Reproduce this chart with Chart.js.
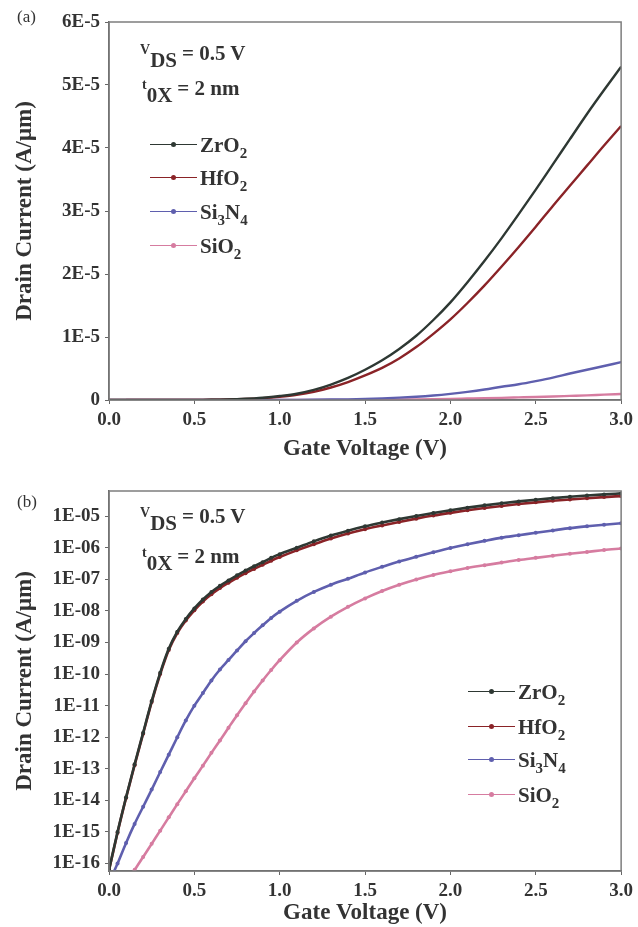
<!DOCTYPE html>
<html>
<head>
<meta charset="utf-8">
<script src="https://cdn.jsdelivr.net/npm/chart.js@4.4.0/dist/chart.umd.min.js"></script>
<style>
  body { margin: 0; background: #fff; }
  #wrap { position: relative; width: 638px; height: 927px; font-family: 'Liberation Serif', 'Times New Roman', serif; font-weight: bold; color: #333; }
  canvas { position: absolute; left: 0; }
  .note { position: absolute; font-size: 21px; line-height: 22px; white-space: nowrap; }
  .note .sm { font-size: 14px; vertical-align: 6px; }
  .note .lo { font-size: 21px; vertical-align: -7px; margin-right: 5px; }
  .tag { position: absolute; font-size: 17px; font-weight: normal; line-height: 20px; }
  .leg { position: absolute; height: 22px; line-height: 22px; font-size: 21px; white-space: nowrap; }
  .leg .mark { display: inline-block; position: relative; width: 47px; height: 22px; vertical-align: top; margin-right: 3px; }
  .leg .mark::before { content: ''; position: absolute; left: 0; right: 0; top: 10px; border-top: 1.5px solid var(--c); }
  .leg .mark::after { content: ''; position: absolute; left: 21px; top: 8px; width: 5px; height: 5px; border-radius: 50%; background: var(--c); }
  .leg sub { font-size: 15px; vertical-align: -6px; line-height: 0; }
</style>
</head>
<body>
<div id="wrap">
  <canvas id="chartA" width="638" height="463" style="top:0"></canvas>
  <canvas id="chartB" width="638" height="464" style="top:463px"></canvas>

  <div class="tag" style="left:17px; top:7px">(a)</div>
  <div class="note" style="left:140px; top:39px"><span class="sm">V</span><span class="lo">DS</span>= 0.5 V</div>
  <div class="note" style="left:142px; top:74px"><span class="sm">t</span><span class="lo">0X</span>= 2 nm</div>

  <div class="tag" style="left:17px; top:492px">(b)</div>
  <div class="note" style="left:140px; top:502px"><span class="sm">V</span><span class="lo">DS</span>= 0.5 V</div>
  <div class="note" style="left:142px; top:542px"><span class="sm">t</span><span class="lo">0X</span>= 2 nm</div>
</div>

<script>
// gate voltage sweep (V)
const gateVoltage = [0.00, 0.05, 0.10, 0.15, 0.20, 0.25, 0.30, 0.35, 0.40, 0.45, 0.50,
    0.55, 0.60, 0.65, 0.70, 0.75, 0.80, 0.85, 0.90, 0.95, 1.00,
    1.1, 1.2, 1.3, 1.4, 1.5, 1.6, 1.7, 1.8, 1.9, 2.0,
    2.1, 2.2, 2.3, 2.4, 2.5, 2.6, 2.7, 2.8, 2.9, 3.0];

// drain current (A/um)
const zro2Current = [6.3e-17, 1.0e-15, 1.26e-14, 1.4e-13, 1.4e-12, 1.4e-11, 1.1e-10, 6.3e-10, 2.2e-9, 5.6e-9, 1.2e-8,
    2.3e-8, 4.0e-8, 6.3e-8, 9.3e-8, 1.35e-7, 1.9e-7, 2.6e-7, 3.5e-7, 4.8e-7, 6.3e-7,
    1.0e-6, 1.6e-6, 2.45e-6, 3.5e-6, 4.8e-6, 6.3e-6, 8.1e-6, 1.02e-5, 1.27e-5, 1.55e-5,
    1.87e-5, 2.21e-5, 2.57e-5, 2.95e-5, 3.34e-5, 3.74e-5, 4.14e-5, 4.54e-5, 4.92e-5, 5.29e-5];

const hfo2Current = [6.0e-17, 9.5e-16, 1.2e-14, 1.3e-13, 1.3e-12, 1.3e-11, 1.0e-10, 5.8e-10, 2.0e-9, 5.0e-9, 1.05e-8,
    2.0e-8, 3.4e-8, 5.3e-8, 7.8e-8, 1.12e-7, 1.57e-7, 2.15e-7, 2.9e-7, 3.9e-7, 5.1e-7,
    8.3e-7, 1.3e-6, 1.98e-6, 2.85e-6, 3.9e-6, 5.1e-6, 6.6e-6, 8.4e-6, 1.05e-5, 1.28e-5,
    1.54e-5, 1.82e-5, 2.12e-5, 2.43e-5, 2.75e-5, 3.08e-5, 3.40e-5, 3.72e-5, 4.04e-5, 4.35e-5];

const si3n4Current = [2.5e-17, 1.0e-16, 4.5e-16, 1.8e-15, 6.3e-15, 2.2e-14, 7.9e-14, 2.8e-13, 1.0e-12, 3.4e-12, 1.0e-11,
    2.5e-11, 6.3e-11, 1.4e-10, 2.8e-10, 5.6e-10, 1.1e-9, 2.0e-9, 3.5e-9, 6.0e-9, 9.5e-9,
    2.1e-8, 4.0e-8, 6.8e-8, 1.05e-7, 1.66e-7, 2.5e-7, 3.7e-7, 5.2e-7, 7.2e-7, 9.8e-7,
    1.29e-6, 1.66e-6, 2.1e-6, 2.5e-6, 3.0e-6, 3.55e-6, 4.2e-6, 4.8e-6, 5.4e-6, 6.0e-6];

const sio2Current = [null, null, 2.5e-17, 6.3e-17, 1.6e-16, 4.2e-16, 1.1e-15, 2.9e-15, 7.6e-15, 1.95e-14, 5.0e-14,
    1.26e-13, 3.2e-13, 7.9e-13, 2.0e-12, 5.0e-12, 1.2e-11, 2.8e-11, 6.3e-11, 1.35e-10, 2.75e-10,
    1.0e-9, 2.8e-9, 6.6e-9, 1.35e-8, 2.5e-8, 4.3e-8, 6.8e-8, 1.0e-7, 1.38e-7, 1.8e-7,
    2.3e-7, 2.8e-7, 3.4e-7, 4.1e-7, 4.8e-7, 5.6e-7, 6.5e-7, 7.4e-7, 8.5e-7, 9.5e-7];

const seriesNames = ['ZrO2', 'HfO2', 'Si3N4', 'SiO2'];
const seriesColors = ['#2e3833', '#8a2327', '#5f5fae', '#d67ca0'];

const xTicks = [0, 0.5, 1.0, 1.5, 2.0, 2.5, 3.0];
const xTickLabels = ['0.0', '0.5', '1.0', '1.5', '2.0', '2.5', '3.0'];
const linTicks = [0, 1e-5, 2e-5, 3e-5, 4e-5, 5e-5, 6e-5];
const linTickLabels = ['0', '1E-5', '2E-5', '3E-5', '4E-5', '5E-5', '6E-5'];
const logTicks = [1e-16, 1e-15, 1e-14, 1e-13, 1e-12, 1e-11, 1e-10, 1e-9, 1e-8, 1e-7, 1e-6, 1e-5];
const logTickLabels = ['1E-16', '1E-15', '1E-14', '1E-13', '1E-12', '1E-11', '1E-10', '1E-09', '1E-08', '1E-07', '1E-06', '1E-05'];

const seriesCurrents = [zro2Current, hfo2Current, si3n4Current, sio2Current];

const serif = "'Liberation Serif', 'Times New Roman', serif";
const tickFont = { family: serif, size: 19, weight: 'bold' };
const titleFont = { family: serif, size: 23, weight: 'bold' };

// box around the plot area (top/right edges)
const framePlugin = {
    id: 'frame',
    afterDatasetsDraw(chart) {
        const { ctx, chartArea: a } = chart;
        ctx.save();
        ctx.strokeStyle = '#7d7d7d';
        ctx.lineWidth = 1.5;
        ctx.strokeRect(a.left, a.top, a.right - a.left, a.bottom - a.top);
        ctx.restore();
    }
};

const makeDatasets = (logPanel) => seriesCurrents.map((vals, i) => ({
    label: seriesNames[i],
    data: gateVoltage.map((v, k) => ({ x: v, y: vals[k] })),
    borderColor: seriesColors[i],
    backgroundColor: seriesColors[i],
    borderWidth: logPanel ? 2.6 : 2.4,
    pointRadius: logPanel ? 2 : 0,
    pointBorderWidth: 0,
    cubicInterpolationMode: 'monotone'
}));

const xScale = (axisHeight) => ({
    type: 'linear',
    min: 0,
    max: 3,
    afterBuildTicks: s => { s.ticks = xTicks.map(v => ({ value: v })); },
    afterFit: s => { s.height = axisHeight; },
    ticks: { font: tickFont, color: '#333', padding: 5, autoSkip: false, maxRotation: 0,
        callback: (v, i) => xTickLabels[i] },
    grid: { drawOnChartArea: false, tickLength: 4, color: '#666' },
    border: { color: '#555', width: 1.5 },
    title: { display: true, text: 'Gate Voltage (V)', font: titleFont, color: '#333', padding: { top: 0, bottom: 0 } }
});

const yTitle = { display: true, text: 'Drain Current (A/μm)', font: titleFont, color: '#333', padding: { top: 3, bottom: 0 } };

const baseOptions = (padTop) => ({
    responsive: false,
    animation: false,
    layout: { padding: { left: 8, right: 15, top: padTop, bottom: 0 } },
    plugins: { legend: { display: false }, tooltip: { enabled: false } }
});

// (a) linear scale
new Chart(document.getElementById('chartA'), {
    type: 'line',
    data: { datasets: makeDatasets(false) },
    options: {
        ...baseOptions(22),
        scales: {
            x: xScale(63),
            y: {
                type: 'linear',
                min: 0,
                max: 6e-5,
                afterBuildTicks: s => { s.ticks = linTicks.map(v => ({ value: v })); },
                afterFit: s => { s.width = 101; },
                ticks: { font: tickFont, color: '#333', padding: 5, autoSkip: false,
                    callback: (v, i) => linTickLabels[i] },
                grid: { drawOnChartArea: false, tickLength: 4, color: '#666' },
                border: { color: '#555', width: 1.5 },
                title: yTitle
            }
        }
    },
    plugins: [framePlugin]
});

// (b) log scale
new Chart(document.getElementById('chartB'), {
    type: 'line',
    data: { datasets: makeDatasets(true) },
    options: {
        ...baseOptions(28),
        scales: {
            x: xScale(56),
            y: {
                type: 'logarithmic',
                min: 5.8e-17,
                max: 6.3e-5,
                afterBuildTicks: s => { s.ticks = logTicks.map(v => ({ value: v })); },
                afterFit: s => { s.width = 101; },
                ticks: { font: tickFont, color: '#333', padding: 5, autoSkip: false,
                    callback: (v, i) => logTickLabels[i] },
                grid: { drawOnChartArea: false, tickLength: 4, color: '#666' },
                border: { color: '#555', width: 1.5 },
                title: yTitle
            }
        }
    },
    plugins: [framePlugin]
});

// legends drawn inside each plot
const addLegend = (left, rowCenters) => {
    const wrap = document.getElementById('wrap');
    seriesNames.forEach((name, i) => {
        const row = document.createElement('div');
        row.className = 'leg';
        row.style.left = left + 'px';
        row.style.top = (rowCenters[i] - 11) + 'px';
        row.innerHTML = `<span class="mark" style="--c:${seriesColors[i]}"></span>` +
            name.replace(/(\d)/g, '<sub>$1</sub>');
        wrap.appendChild(row);
    });
};
addLegend(150, [145, 178, 212, 246]);
addLegend(468, [692, 727, 760, 795]);
</script>
</body>
</html>
